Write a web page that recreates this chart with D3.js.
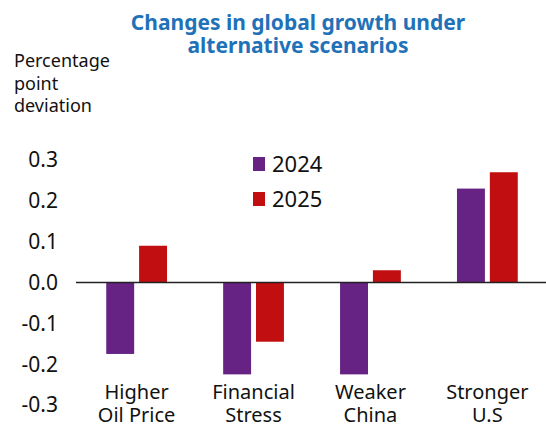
<!DOCTYPE html>
<html>
<head>
<meta charset="utf-8">
<script src="https://cdn.jsdelivr.net/npm/d3@7"></script>
<style>
  body { margin: 0; background: #fff; }
  text { font-family: "Noto Sans", sans-serif; }
</style>
</head>
<body>
<svg id="chart" width="546" height="425"></svg>
<script>
// chart data
const categories = ["Higher|Oil Price", "Financial|Stress", "Weaker|China", "Stronger|U.S"];
const years = ["2024", "2025"];
const values2024 = [-0.175, -0.225, -0.225, 0.23];
const values2025 = [0.09, -0.145, 0.03, 0.27];
const yTicks = [-0.3, -0.2, -0.1, 0.0, 0.1, 0.2, 0.3];
const colors = ["#672383", "#c10e10"];

const svg = d3.select("#chart");

// scales
const x0 = d3.scaleBand()
    .domain(categories)
    .range([77, 547])
    .paddingInner(0.48)
    .paddingOuter(0.25);

const x1 = d3.scaleBand()
    .domain(years)
    .range([0, x0.bandwidth()])
    .paddingInner(0.15);

const y = d3.scaleLinear()
    .domain([-0.3, 0.3])
    .range([405, 160]);

// title
svg.append("text")
    .attr("x", 298).attr("y", 30)
    .attr("text-anchor", "middle")
    .attr("fill", "#1f72b8")
    .attr("font-weight", "bold")
    .attr("font-size", 21)
    .selectAll("tspan")
    .data(["Changes in global growth under", "alternative scenarios"])
    .enter().append("tspan")
    .attr("x", 298)
    .attr("dy", (d, i) => i === 0 ? 0 : 23)
    .text(d => d);

// y axis unit label
svg.append("text")
    .attr("x", 14).attr("y", 67)
    .attr("fill", "#111")
    .attr("font-size", 18)
    .selectAll("tspan")
    .data(["Percentage", "point", "deviation"])
    .enter().append("tspan")
    .attr("x", 14)
    .attr("dy", (d, i) => i === 0 ? 0 : 22.5)
    .text(d => d);

// y tick labels
svg.selectAll(".ytick")
    .data(yTicks)
    .enter().append("text")
    .attr("class", "ytick")
    .attr("x", 58)
    .attr("y", d => y(d))
    .attr("dy", "0.35em")
    .attr("text-anchor", "end")
    .attr("fill", "#111")
    .attr("font-size", 21)
    .text(d => d3.format(".1f")(d).replace("−", "-"));

// bars
const rows = categories.map((c, i) => ({ cat: c, vals: [values2024[i], values2025[i]] }));

const groups = svg.selectAll(".grp")
    .data(rows)
    .enter().append("g")
    .attr("class", "grp")
    .attr("transform", d => "translate(" + x0(d.cat) + ",0)");

groups.selectAll("rect")
    .data(d => d.vals.map((v, j) => ({ year: years[j], v: v, j: j })))
    .enter().append("rect")
    .attr("x", d => x1(d.year))
    .attr("width", x1.bandwidth())
    .attr("y", d => y(Math.max(0, d.v)))
    .attr("height", d => Math.abs(y(d.v) - y(0)))
    .attr("fill", d => colors[d.j]);

// zero line
svg.append("line")
    .attr("x1", 76).attr("x2", 546)
    .attr("y1", y(0)).attr("y2", y(0))
    .attr("stroke", "#222")
    .attr("stroke-width", 1.5);

// category labels
svg.selectAll(".xlab")
    .data(categories)
    .enter().append("text")
    .attr("class", "xlab")
    .attr("text-anchor", "middle")
    .attr("fill", "#111")
    .attr("font-size", 20)
    .attr("y", 399)
    .each(function (d) {
        const cx = x0(d) + x0.bandwidth() / 2;
        d3.select(this).selectAll("tspan")
            .data(d.split("|"))
            .enter().append("tspan")
            .attr("x", cx)
            .attr("dy", (t, i) => i === 0 ? 0 : 23)
            .text(t => t);
    });

// legend
const legend = svg.selectAll(".leg")
    .data(years)
    .enter().append("g")
    .attr("class", "leg")
    .attr("transform", (d, i) => "translate(253," + (157 + i * 35) + ")");

legend.append("rect")
    .attr("width", 12).attr("height", 14)
    .attr("fill", (d, i) => colors[i]);

legend.append("text")
    .attr("x", 19).attr("y", 7)
    .attr("dy", "0.35em")
    .attr("fill", "#111")
    .attr("font-size", 22)
    .text(d => d);
</script>
</body>
</html>
